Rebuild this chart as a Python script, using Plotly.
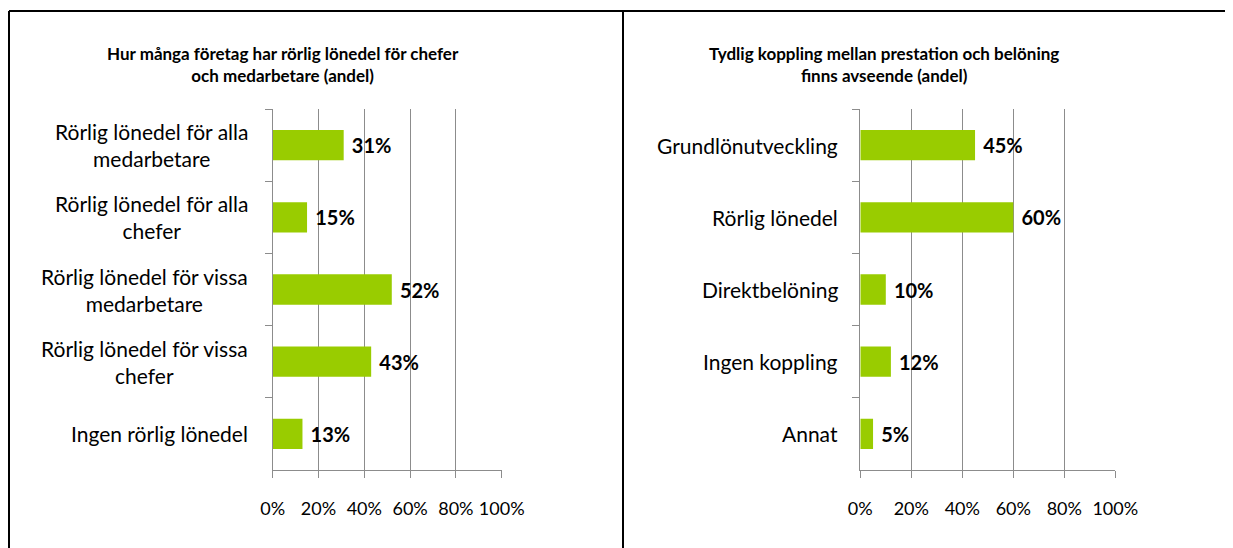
import plotly.graph_objects as go

left_title = "Hur många företag har rörlig lönedel för chefer<br>och medarbetare (andel)"
left_categories = [
    "Rörlig lönedel för alla<br>medarbetare",
    "Rörlig lönedel för alla<br>chefer",
    "Rörlig lönedel för vissa<br>medarbetare",
    "Rörlig lönedel för vissa<br>chefer",
    "Ingen rörlig lönedel",
]
left_values = [31, 15, 52, 43, 13]

right_title = "Tydlig koppling mellan prestation och belöning<br>finns avseende (andel)"
right_categories = [
    "Grundlönutveckling",
    "Rörlig lönedel",
    "Direktbelöning",
    "Ingen koppling",
    "Annat",
]
right_values = [45, 60, 10, 12, 5]

x_ticks = [0, 20, 40, 60, 80, 100]

W, H = 1233, 548
OFF = 8  # page body margin compensation
FONT = "Lato"
GREEN = "#99CC00"
GRID = "#8c8c8c"


def px(x):
    return (x - OFF) / W


def py(y):
    return 1 - (y - OFF) / H


fig = go.Figure()
for vals, cats, xa, ya in [(left_values, left_categories, "x", "y"),
                           (right_values, right_categories, "x2", "y2")]:
    fig.add_trace(go.Bar(
        x=vals, y=cats, orientation="h",
        marker=dict(color=GREEN, line=dict(width=0)), width=0.42,
        text=["\u00a0<b>" + str(v) + "%</b>" for v in vals],
        textposition="outside",
        textfont=dict(family=FONT, size=20, color="black"),
        cliponaxis=False, xaxis=xa, yaxis=ya, hoverinfo="skip",
    ))

ydom = [py(470), py(109)]
xaxis_common = dict(
    range=[0, 100], tickvals=x_ticks, ticktext=[f"{v}%" for v in x_ticks],
    showgrid=True, gridcolor=GRID, gridwidth=1,
    showline=True, linecolor=GRID, linewidth=1,
    ticks="outside", ticklen=7, tickcolor=GRID,
    tickfont=dict(family=FONT, size=18, color="black"),
    ticklabelstandoff=15, zeroline=False, fixedrange=True, automargin=False,
)
yaxis_common = dict(
    autorange="reversed", type="category",
    showline=True, linecolor=GRID, linewidth=1,
    ticks="outside", ticklen=7, tickcolor=GRID, tickson="boundaries",
    showticklabels=False, showgrid=False, fixedrange=True, automargin=False,
)

annotations = [
    dict(text="<b>" + left_title + "</b>", x=px(283), y=py(64.5),
         xref="paper", yref="paper", showarrow=False, align="center",
         xanchor="center", yanchor="middle",
         font=dict(family=FONT, size=17, color="black")),
    dict(text="<b>" + right_title + "</b>", x=px(884), y=py(64.5),
         xref="paper", yref="paper", showarrow=False, align="center",
         xanchor="center", yanchor="middle",
         font=dict(family=FONT, size=17, color="black")),
]
# category labels (centered multi-line, right edge near axis)
for cats, yref, xr in [(left_categories, "y", px(250)), (right_categories, "y2", px(840))]:
    for c in cats:
        annotations.append(dict(
            text=c, x=xr, y=c, xref="paper", yref=yref, xanchor="right",
            yanchor="middle", align="center", showarrow=False,
            font=dict(family=FONT, size=21, color="black")))

fig.update_layout(
    width=W, height=H, autosize=False,
    margin=dict(l=0, r=0, t=0, b=0, autoexpand=False),
    paper_bgcolor="white", plot_bgcolor="white",
    showlegend=False,
    xaxis=dict(domain=[px(272.7), px(501.7)], anchor="y", **xaxis_common),
    yaxis=dict(domain=ydom, anchor="x", **yaxis_common),
    xaxis2=dict(domain=[px(860.3), px(1115.3)], anchor="y2", **xaxis_common),
    yaxis2=dict(domain=ydom, anchor="x2", **yaxis_common),
    annotations=annotations,
    shapes=[
        dict(type="line", xref="paper", yref="paper", x0=px(9), x1=1.0,
             y0=py(11), y1=py(11), line=dict(color="black", width=2)),
        dict(type="line", xref="paper", yref="paper", x0=px(9), x1=px(9),
             y0=0, y1=py(11), line=dict(color="black", width=2)),
        dict(type="line", xref="paper", yref="paper", x0=px(623), x1=px(623),
             y0=0, y1=py(11), line=dict(color="black", width=2)),
    ],
)

fig.write_html("out.html")
